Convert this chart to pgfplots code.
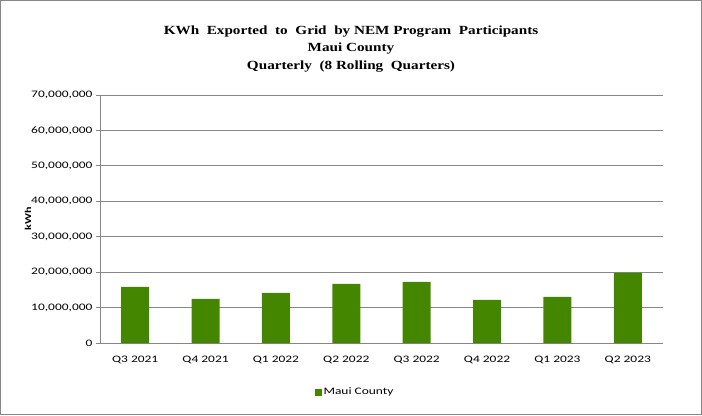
\documentclass[border=0pt]{standalone}
\usepackage{fontspec}
\setmainfont[FakeStretch=1.35]{Carlito}
\newfontfamily\titlefont[FakeStretch=1.22]{Liberation Serif}
\usepackage{pgfplots}
\pgfplotsset{compat=1.18}
\definecolor{bargreen}{RGB}{69,134,0}
\definecolor{gridgray}{RGB}{134,134,134}
\begin{document}
\begin{tikzpicture}[x=1bp,y=1bp]
\useasboundingbox (0,0) rectangle (702,415);
\draw[gridgray, line width=1bp] (0.5,0.5) rectangle (701.5,414.5);
\node[align=center, font=\titlefont\bfseries\fontsize{12.5}{18}\selectfont, anchor=center] at (351,366) {KWh\ \ Exported\ \ to\ \ Grid\ \ by\ NEM Program\ \ Participants\\Maui County\\Quarterly\ \ (8 Rolling\ \ Quarters)};
\begin{axis}[
  at={(100bp,72bp)}, anchor=south west,
  scale only axis, width=563bp, height=248bp,
  xmin=-0.5, xmax=7.5, ymin=0, ymax=70000000,
  xtick={0,...,7},
  xticklabels={Q3 2021,Q4 2021,Q1 2022,Q2 2022,Q3 2022,Q4 2022,Q1 2023,Q2 2023},
  ytick={0,10000000,20000000,30000000,40000000,50000000,60000000,70000000},
  scaled y ticks=false,
  /pgf/number format/assume math mode=true,
  yticklabel style={/pgf/number format/.cd, fixed, 1000 sep={,}},
  ticklabel style={font=\fontsize{10}{11}\selectfont, text=black},
  axis x line*=bottom, axis y line*=left,
  axis line style={gridgray, line width=1bp},
  x tick style={draw=none},
  y tick style={gridgray, line width=1bp},
  tick align=outside, major tick length=4bp,
  ymajorgrids, grid style={gridgray, line width=1bp},
  xticklabel style={yshift=-6bp},
  ylabel={kWh},
  ylabel style={at={(axis description cs:-0.128,0.5)}, anchor=center, font=\bfseries\fontsize{9}{10}\selectfont},
  legend style={at={(axis description cs:0.453,-0.198)}, anchor=center, draw=none, font=\fontsize{10}{11}\selectfont, legend cell align=left},
  legend image code/.code={\fill[bargreen] (0bp,-3.5bp) rectangle (7bp,3.5bp);},
]
\addplot[ybar, bar width=28bp, fill=bargreen, draw=none] coordinates {
(0,15850000) (1,12450000) (2,14150000) (3,16700000) (4,17260000) (5,12170000) (6,13000000) (7,19800000)};
\addlegendentry{Maui County}
\end{axis}
\end{tikzpicture}
\end{document}
